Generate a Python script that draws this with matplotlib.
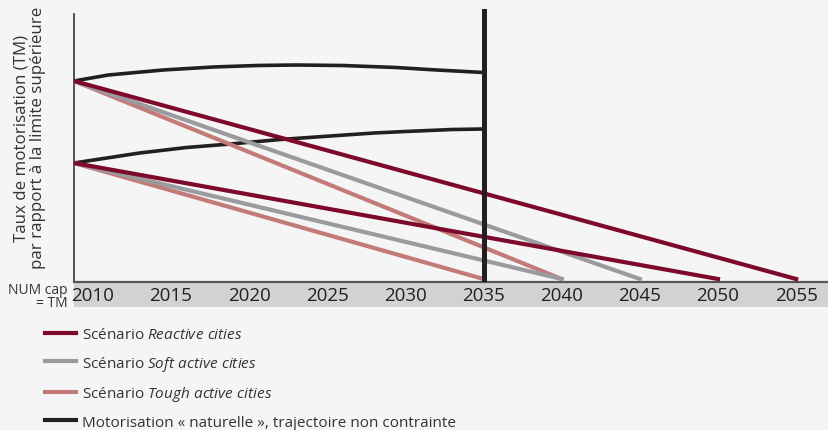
import matplotlib.pyplot as plt
from matplotlib.lines import Line2D
from matplotlib.patches import Rectangle

plt.rcParams['font.family'] = ['Open Sans', 'DejaVu Sans']
plt.rcParams['mathtext.fontset'] = 'custom'
plt.rcParams['mathtext.it'] = 'Open Sans:italic'
plt.rcParams['mathtext.rm'] = 'Open Sans'

#=============================Data=============================================
start_year = 2008.8
years = [2010, 2015, 2020, 2025, 2030, 2035, 2040, 2045, 2050, 2055]
high_start = 198   # upper starting point (index, schematic)
low_start = 116    # lower starting point

# scenario end years (value reaches the cap)
reactive_end = [2055, 2050]
soft_end = [2045, 2040]
tough_end = [2040, 2035]

# "natural" motorisation, unconstrained
nat_high_x = [2008.8, 2011, 2014.5, 2017.7, 2020.5, 2023, 2026, 2029.4, 2032, 2035]
nat_high_y = [198, 204, 209, 212, 213.5, 214, 213.5, 211.5, 209, 206.5]
nat_low_x = [2008.8, 2013, 2016, 2018.8, 2022, 2025.2, 2028, 2030, 2033, 2035]
nat_low_y = [116, 126, 131.5, 135, 139.5, 143, 146, 147.5, 149.5, 150]

c_reactive = '#7d0a2b'
c_soft = '#9a9b9f'
c_tough = '#c27b78'
c_black = '#231f20'
bg = '#f5f5f5'
#==============================================================================

fig = plt.figure(figsize=(8.29, 4.31), dpi=100, facecolor=bg)
ax = fig.add_axes([74/829, 148/431, 755/829, 273/431], facecolor=bg)

ax.plot(nat_high_x, nat_high_y, color=c_black, lw=2.6, solid_capstyle='butt', zorder=2)
ax.plot(nat_low_x, nat_low_y, color=c_black, lw=2.6, solid_capstyle='butt', zorder=2)

for ends, col, z in [(tough_end, c_tough, 3), (soft_end, c_soft, 4), (reactive_end, c_reactive, 5)]:
    ax.plot([start_year, ends[0]], [high_start, 0], color=col, lw=3, zorder=z)
    ax.plot([start_year, ends[1]], [low_start, 0], color=col, lw=3, zorder=z)

ax.axvline(2035, color=c_black, lw=3.6, zorder=6)

ax.set_xlim(start_year, 2057.1)
ax.set_ylim(-3, 270)
ax.set_yticks([])
ax.set_xticks(years)
ax.set_xticklabels([str(y) for y in years])
ax.tick_params(axis='x', length=0, pad=3, labelsize=13.5, labelcolor='#231f20')

for s in ['top', 'right']:
    ax.spines[s].set_visible(False)
ax.spines['left'].set_bounds(-3, 265)
ax.spines['left'].set_color('#333333')
ax.spines['left'].set_linewidth(1.2)
ax.spines['bottom'].set_color('#555555')
ax.spines['bottom'].set_linewidth(1.6)

# grey band under the axis
ax.add_patch(Rectangle((0, -25/273), 1, 25/273, transform=ax.transAxes,
                       facecolor='#d1d2d4', edgecolor='none', clip_on=False, zorder=0))

fig.text(68/829, 1 - 297/431, 'NUM cap\n= TM', ha='right', va='center',
         fontsize=10, color='#333333', linespacing=0.9, multialignment='right')

fig.text(30/829, 1 - 138/431, 'Taux de motorisation (TM)\npar rapport à la limite supérieure',
         rotation=90, ha='center', va='center', fontsize=12.2, color='#333333',
         multialignment='center', linespacing=1.0)

#=============================Legend===========================================
handles = [Line2D([], [], color=c_reactive, lw=3),
           Line2D([], [], color=c_soft, lw=3),
           Line2D([], [], color=c_tough, lw=3),
           Line2D([], [], color=c_black, lw=3)]
labels = [r'Scénario $\it{Reactive\ cities}$',
          r'Scénario $\it{Soft\ active\ cities}$',
          r'Scénario $\it{Tough\ active\ cities}$',
          'Motorisation « naturelle », trajectoire non contrainte']
leg = fig.legend(handles, labels, loc='upper left', bbox_to_anchor=(45/829, 1 - 328/431),
                 frameon=False, fontsize=11, handlelength=2.0, handletextpad=0.4,
                 labelspacing=0.76, borderaxespad=0, borderpad=0)
for t in leg.get_texts():
    t.set_color('#333333')

fig.savefig('out.png', dpi=100, facecolor=bg)
